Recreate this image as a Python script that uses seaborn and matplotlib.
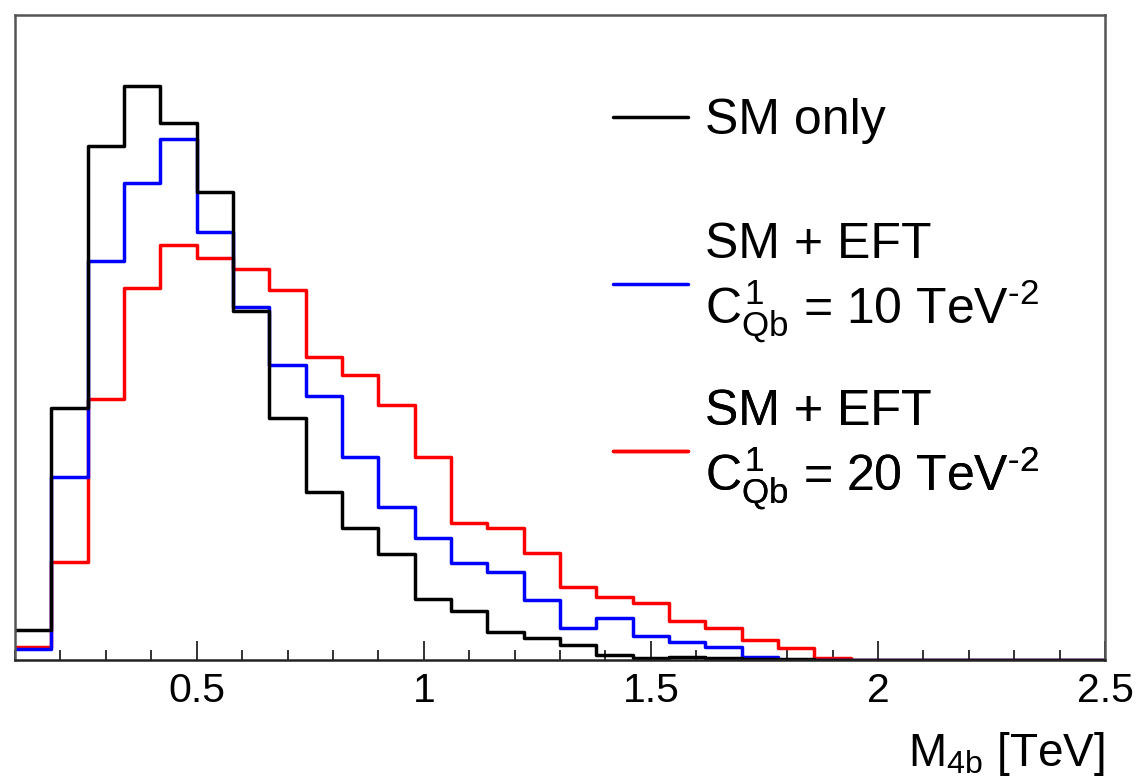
import numpy as np
import pandas as pd
import matplotlib
matplotlib.use("Agg")
import matplotlib.pyplot as plt
from matplotlib.lines import Line2D
from matplotlib.ticker import MultipleLocator
import seaborn as sns

# Binning of the four-b-jet invariant mass (TeV)
bin_edges = np.linspace(0.1, 2.5, 31)
bin_centers = 0.5 * (bin_edges[:-1] + bin_edges[1:])

# Event yields per bin (arbitrary units)
sm_only = [30, 252, 514, 574, 537, 468, 349, 242, 168, 132, 106, 61, 49, 28, 22,
           15, 5, 2, 3, 2, 1, 1, 0.5, 0.5, 0, 0, 0, 0, 0, 0]
eft_c10 = [11, 183, 399, 477, 521, 428, 353, 295, 264, 203, 153, 122, 97, 88, 60,
           32, 42, 24, 18, 13, 3, 0.5, 0.5, 0, 0, 0, 0, 0, 0, 0]
eft_c20 = [13, 98, 261, 372, 415, 402, 391, 370, 303, 285, 255, 203, 137, 132, 107,
           73, 63, 57, 39, 32, 20, 12, 2, 0, 0, 0, 0, 0, 0, 0]

labels = [
    "SM only",
    "SM + EFT\n$C^{1}_{Qb}$ = 10 TeV$^{\\text{-}2}$",
    "SM + EFT\n$C^{1}_{Qb}$ = 20 TeV$^{\\text{-}2}$",
]
colors = ["#000000", "#0000ff", "#ff0000"]

sns.set_theme(style="white")
plt.rcParams["font.family"] = ["Liberation Sans", "DejaVu Sans"]
plt.rcParams["mathtext.fontset"] = "custom"
plt.rcParams["mathtext.rm"] = "Liberation Sans"
plt.rcParams["mathtext.it"] = "Liberation Sans"
plt.rcParams["mathtext.bf"] = "Liberation Sans:bold"
plt.rcParams["text.color"] = "black"
plt.rcParams["axes.labelcolor"] = "black"

fig = plt.figure(figsize=(11.39, 7.83), dpi=100)
ax = fig.add_axes([15 / 1139, 1 - 660 / 783, 1090 / 1139, 645 / 783])

samples = [(eft_c20, colors[2]), (eft_c10, colors[1]), (sm_only, colors[0])]
for values, col in samples:
    df = pd.DataFrame({"mass": bin_centers, "events": values})
    sns.histplot(data=df, x="mass", weights="events", bins=list(bin_edges),
                 element="step", fill=False, color=col, linewidth=2.5,
                 ax=ax, legend=False)

ax.set_xlim(0.1, 2.5)
ax.set_ylim(0, 645)
ax.set_ylabel("")
ax.set_yticks([])
ax.set_xlabel("M$_{4b}$ [TeV]", fontsize=33, loc="right", labelpad=14)

ax.xaxis.set_major_locator(MultipleLocator(0.5))
ax.xaxis.set_minor_locator(MultipleLocator(0.1))
ax.set_xticks([0.5, 1.0, 1.5, 2.0, 2.5])
ax.set_xticklabels(["0.5", "1", "1.5", "2", "2.5"])
ax.tick_params(axis="x", which="major", direction="in", length=14, width=1.4,
               colors="#333333", labelcolor="black", labelsize=29.5, pad=9,
               bottom=True, top=False)
ax.tick_params(axis="x", which="minor", direction="in", length=7, width=1.4,
               colors="#333333", bottom=True, top=False)

for name, sp in ax.spines.items():
    sp.set_visible(True)
    sp.set_color("#555555")
    sp.set_linewidth(1.8)
ax.spines["bottom"].set_color("#222222")

# One legend block per sample, stacked at equal spacing
legend_tops = [0.8713, 0.679, 0.420]
for col, lab, top in zip(colors, labels, legend_tops):
    leg = ax.legend([Line2D([], [], color=col, linewidth=2.5)], [lab],
                    loc="upper left", bbox_to_anchor=(0.5486, top),
                    frameon=False, fontsize=36, handlelength=1.5,
                    handletextpad=0.34, borderpad=0, borderaxespad=0)
    ax.add_artist(leg)

fig.savefig("out.png", dpi=100)
